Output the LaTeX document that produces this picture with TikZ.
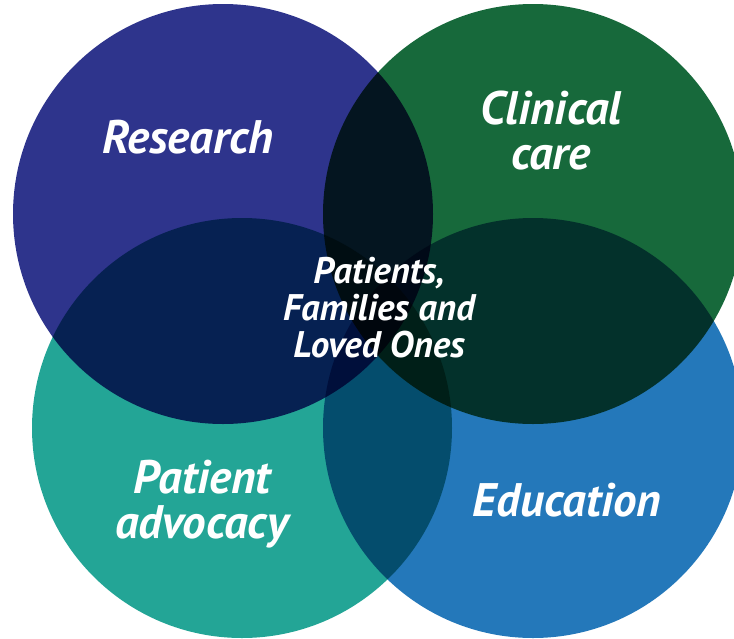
\documentclass[tikz,border=0pt]{standalone}
\usepackage{fontspec}
\setmainfont{PT Sans}
\usepackage{tikz}
\usetikzlibrary{positioning}
\definecolor{research}{RGB}{46,52,140}
\definecolor{clinical}{RGB}{23,105,59}
\definecolor{advocacy}{RGB}{35,165,150}
\definecolor{education}{RGB}{36,120,186}

\begin{document}
\begin{tikzpicture}[x=1pt,y=-1pt]
\tikzstyle{area}=[circle, minimum size=420pt, inner sep=0pt, blend mode=multiply]
\tikzstyle{topic}=[text=white, align=center, inner sep=0pt, font=\bfseries\itshape\fontsize{47}{45}\selectfont]
\tikzstyle{core}=[text=white, align=center, inner sep=0pt, font=\bfseries\itshape\fontsize{37}{37}\selectfont]
\useasboundingbox (0,0) rectangle (734,638);

	\node[area, fill=research] (r) at (223,214) {};
	\node[area, fill=clinical] (c) at (533,214) {};
	\node[area, fill=advocacy] (a) at (242,428) {};
	\node[area, fill=education] (e) at (533,428) {};

	\node[topic, anchor=base] (rt) at (188,153) {Research};
	\node[topic] (ct) at (551,131) {Clinical\\care};
	\node[topic] (at) at (202,504) {Patient\\advocacy};
	\node[topic, anchor=base] (et) at (567,516) {Education};
	\node[core] (pt) at (379,308) {Patients,\\Families and\\Loved Ones};

\end{tikzpicture}
\end{document}
